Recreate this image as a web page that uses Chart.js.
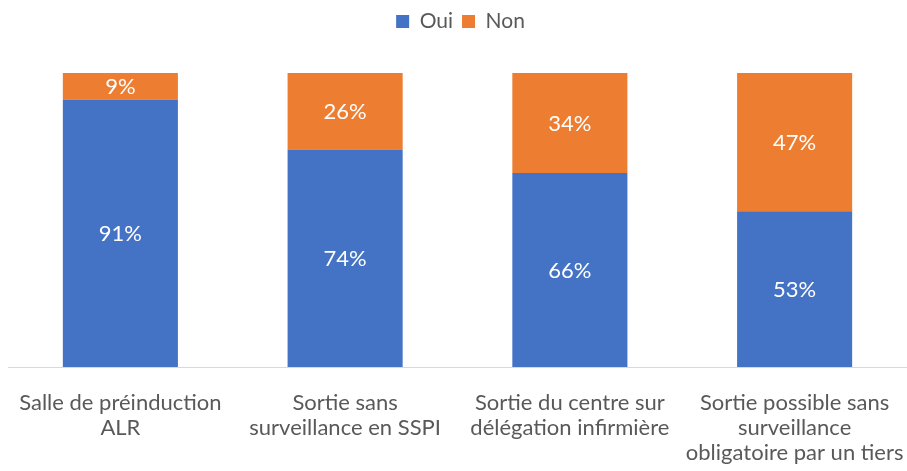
<!DOCTYPE html>
<html><head><meta charset="utf-8">
<script src="https://cdn.jsdelivr.net/npm/chart.js@4/dist/chart.umd.min.js"></script>
<style>html,body{margin:0;padding:0;background:#fff}#wrap{width:907px;height:471px}</style>
</head><body><div id="wrap"><canvas id="c"></canvas></div>
<script>
const categories = [
  ["Salle de préinduction", "ALR"],
  ["Sortie sans", "surveillance en SSPI"],
  ["Sortie du centre sur", "délégation infirmière"],
  ["Sortie possible sans", "surveillance", "obligatoire par un tiers"]
];
const ouiValues = [91, 74, 66, 53];
const nonValues = [9, 26, 34, 47];

const FONT = "Lato, 'Open Sans', sans-serif";

const segLabels = {
  id: 'segLabels',
  afterDatasetsDraw(chart) {
    const ctx = chart.ctx;
    ctx.save();
    ctx.fillStyle = '#ffffff';
    ctx.font = '22px ' + FONT;
    ctx.textAlign = 'center';
    ctx.textBaseline = 'middle';
    chart.data.datasets.forEach((ds, i) => {
      const meta = chart.getDatasetMeta(i);
      meta.data.forEach((bar, j) => {
        const p = bar.getProps(['x', 'y', 'base'], true);
        ctx.fillText(ds.data[j] + '%', p.x, (p.y + p.base) / 2 + 1);
      });
    });
    ctx.restore();
  }
};

const legendSpace = {
  id: 'legendSpace',
  beforeInit(chart) {
    const orig = chart.legend.fit;
    chart.legend.fit = function () {
      orig.call(this);
      this.height += 31;
    };
  }
};

new Chart(document.getElementById('c'), {
  type: 'bar',
  data: {
    labels: categories,
    datasets: [
      { label: 'Oui', data: ouiValues, backgroundColor: '#4472c4', categoryPercentage: 1, barPercentage: 0.512 },
      { label: 'Non', data: nonValues, backgroundColor: '#ed7d31', categoryPercentage: 1, barPercentage: 0.512 }
    ]
  },
  options: {
    responsive: true,
    maintainAspectRatio: false,
    animation: false,
    layout: { padding: { left: 8, right: -6, top: 2, bottom: 0 } },
    plugins: {
      legend: {
        position: 'top',
        labels: { boxWidth: 13, boxHeight: 13, color: '#595959', font: { family: FONT, size: 21 }, padding: 9 }
      },
      tooltip: { enabled: false }
    },
    scales: {
      x: {
        stacked: true,
        grid: { display: false, drawTicks: false },
        border: { color: '#d9d9d9', width: 1 },
        ticks: { color: '#595959', font: { family: FONT, size: 22, lineHeight: 1.12 }, padding: 24, maxRotation: 0, autoSkip: false },
        afterFit(scale) {
          scale.paddingLeft = 0;
          scale.paddingRight = 0;
          scale.height = 104;
        }
      },
      y: {
        stacked: true,
        display: false,
        min: 0, max: 100
      }
    }
  },
  plugins: [segLabels, legendSpace]
});
</script></body></html>
